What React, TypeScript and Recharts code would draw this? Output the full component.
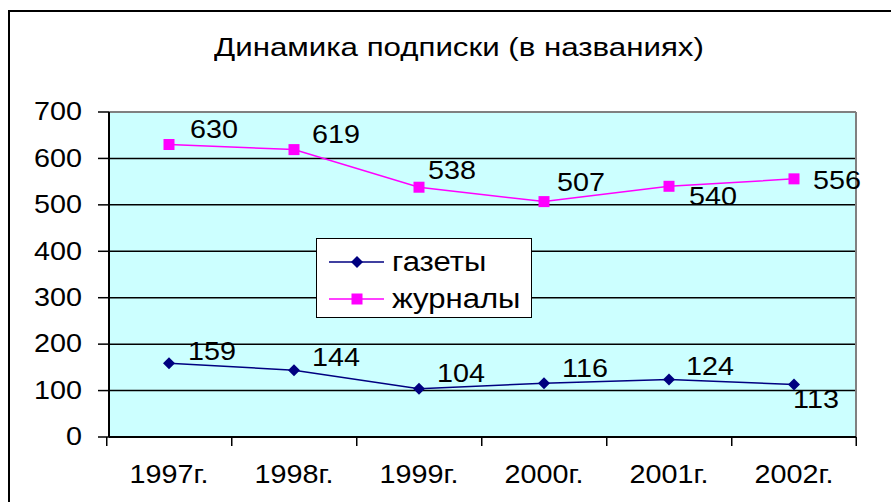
import React from "react";
import {
  LineChart,
  Line,
  XAxis,
  YAxis,
  CartesianGrid,
  Legend,
  LabelList,
} from "recharts";

const years = ["1997г.", "1998г.", "1999г.", "2000г.", "2001г.", "2002г."];
const newspapers = [159, 144, 104, 116, 124, 113];
const magazines = [630, 619, 538, 507, 540, 556];
const yTicks = [0, 100, 200, 300, 400, 500, 600, 700];

const title = "Динамика подписки (в названиях)";
const seriesNames = { newspapers: "газеты", magazines: "журналы" };

// label placement (offset of label centre from the point), as in the original
const magLabelDx = [45, 42, 33, 37, 44, 43];
const magLabelDy = [-15, -15, -17, -19, 10, 2];
const newsLabelDx = [43, 42, 42, 41, 41, 22];
const newsLabelDy = [-12, -12, -15, -14, -13, 15];

const data = years.map((y, i) => ({
  year: y,
  newspapers: newspapers[i],
  magazines: magazines[i],
}));

const FONT = "'Liberation Sans', Arial, sans-serif";
const FS = 25;
const SX = 1.15;
const NAVY = "#000080";
const MAGENTA = "#ff00ff";
const BAND = 124.5;

const SText = (props: any) => {
  const { x, y, anchor, baseline, children, size } = props;
  return (
    <text
      transform={`translate(${x},${y}) scale(${SX},1)`}
      x={0}
      y={0}
      textAnchor={anchor || "middle"}
      dominantBaseline={baseline || "auto"}
      fontFamily={FONT}
      fontSize={size || FS}
      fill="#000"
    >
      {children}
    </text>
  );
};

const Diamond = (props: any) => {
  const { cx, cy, fill, index } = props;
  const r = 6;
  return (
    <path
      key={`d-${index}`}
      d={`M${cx},${cy - r}L${cx + r},${cy}L${cx},${cy + r}L${cx - r},${cy}Z`}
      fill={fill || NAVY}
    />
  );
};

const Square = (props: any) => {
  const { cx, cy, fill, index } = props;
  const s = 5.5;
  return (
    <rect
      key={`s-${index}`}
      x={cx - s}
      y={cy - s}
      width={2 * s}
      height={2 * s}
      fill={fill || MAGENTA}
    />
  );
};

const XTick = (props: any) => {
  const { x, y, payload, index } = props;
  const last = index === years.length - 1;
  return (
    <g>
      <line x1={x - BAND / 2} x2={x - BAND / 2} y1={y} y2={y + 9} stroke="#000" strokeWidth={1.5} />
      {last && (
        <line x1={x + BAND / 2} x2={x + BAND / 2} y1={y} y2={y + 9} stroke="#000" strokeWidth={1.5} />
      )}
      <SText x={x} y={y + 46}>
        {payload.value}
      </SText>
    </g>
  );
};

const YTick = (props: any) => {
  const { x, y, payload } = props;
  return (
    <SText x={x} y={y} anchor="end" baseline="central">
      {payload.value}
    </SText>
  );
};

const makeLabel = (dxs: number[], dys: number[]) => (props: any) => {
  const { x, y, value, index } = props;
  return (
    <SText key={`l-${index}`} x={x + dxs[index]} y={y + dys[index]} baseline="central">
      {value}
    </SText>
  );
};

const LegendBox = () => (
  <div
    style={{
      width: 214,
      height: 78,
      border: "1px solid #000",
      background: "#fff",
      fontFamily: FONT,
      fontSize: 27,
      color: "#000",
      position: "relative",
    }}
  >
    {[
      { name: seriesNames.newspapers, color: NAVY, shape: "d" },
      { name: seriesNames.magazines, color: MAGENTA, shape: "s" },
    ].map((it, i) => (
      <div
        key={it.name}
        style={{
          position: "absolute",
          left: 12,
          top: i === 0 ? 8 : 45,
          height: 30,
          display: "flex",
          alignItems: "center",
          whiteSpace: "nowrap",
        }}
      >
        <svg width={56} height={20} style={{ display: "block" }}>
          <line x1={0} x2={55} y1={10} y2={10} stroke={it.color} strokeWidth={1.5} />
          {it.shape === "d" ? (
            <path d="M28,4L34,10L28,16L22,10Z" fill={it.color} />
          ) : (
            <rect x={22.5} y={4.5} width={11} height={11} fill={it.color} />
          )}
        </svg>
        <span
          style={{
            marginLeft: 7,
            lineHeight: "30px",
            display: "inline-block",
            transform: `scaleX(${SX})`,
            transformOrigin: "left center",
          }}
        >
          {it.name}
        </span>
      </div>
    ))}
  </div>
);

export default function App() {
  return (
    <div
      style={{
        position: "absolute",
        left: 0,
        top: 0,
        width: 891,
        height: 502,
        overflow: "hidden",
        background: "#fff",
      }}
    >
      <div
        style={{
          position: "absolute",
          left: 8,
          top: 10,
          width: 1000,
          height: 1000,
          borderLeft: "2px solid #000",
          borderTop: "2px solid #000",
        }}
      />
      <div
        style={{
          position: "absolute",
          left: 0,
          top: 32,
          width: 918,
          textAlign: "center",
          fontFamily: FONT,
          fontSize: 25,
          color: "#000",
          lineHeight: "30px",
        }}
      >
        <span style={{ display: "inline-block", transform: "scaleX(1.25)" }}>{title}</span>
      </div>
      <div style={{ position: "absolute", left: 0, top: 0 }}>
        <LineChart
          width={891}
          height={502}
          data={data}
          margin={{ top: 112, right: 35, bottom: 0, left: 0 }}
        >
          <CartesianGrid
            horizontal={true}
            vertical={false}
            stroke="#000"
            strokeWidth={1.5}
            fill="#ccffff"
            fillOpacity={1}
          />
          <CartesianGrid
            stroke="#808080"
            strokeWidth={2}
            horizontalCoordinatesGenerator={(p: any) => [p.offset.top]}
            verticalCoordinatesGenerator={(p: any) => [p.offset.left + p.offset.width]}
          />
          <XAxis
            dataKey="year"
            height={65}
            padding={{ left: 60, right: 62 }}
            axisLine={{ stroke: "#000", strokeWidth: 2 }}
            tickLine={false}
            tickSize={0}
            tickMargin={0}
            interval={0}
            tick={<XTick />}
          />
          <YAxis
            width={109}
            domain={[0, 700]}
            ticks={yTicks}
            interval={0}
            axisLine={{ stroke: "#000", strokeWidth: 2 }}
            tickLine={{ stroke: "#000", strokeWidth: 1.5 }}
            tickSize={11}
            tickMargin={16}
            tick={<YTick />}
          />
          <Legend
            layout="horizontal"
            verticalAlign="middle"
            align="center"
            content={() => <LegendBox />}
            wrapperStyle={{ position: "absolute", left: 316, top: 238, width: 216, height: 80 }}
          />
          <Line
            dataKey="magazines"
            name={seriesNames.magazines}
            stroke={MAGENTA}
            strokeWidth={1.5}
            dot={(p: any) => <Square {...p} fill={MAGENTA} />}
            activeDot={false}
            isAnimationActive={false}
          >
            <LabelList dataKey="magazines" content={makeLabel(magLabelDx, magLabelDy)} />
          </Line>
          <Line
            dataKey="newspapers"
            name={seriesNames.newspapers}
            stroke={NAVY}
            strokeWidth={1.5}
            dot={(p: any) => <Diamond {...p} fill={NAVY} />}
            activeDot={false}
            isAnimationActive={false}
          >
            <LabelList dataKey="newspapers" content={makeLabel(newsLabelDx, newsLabelDy)} />
          </Line>
        </LineChart>
      </div>
    </div>
  );
}
